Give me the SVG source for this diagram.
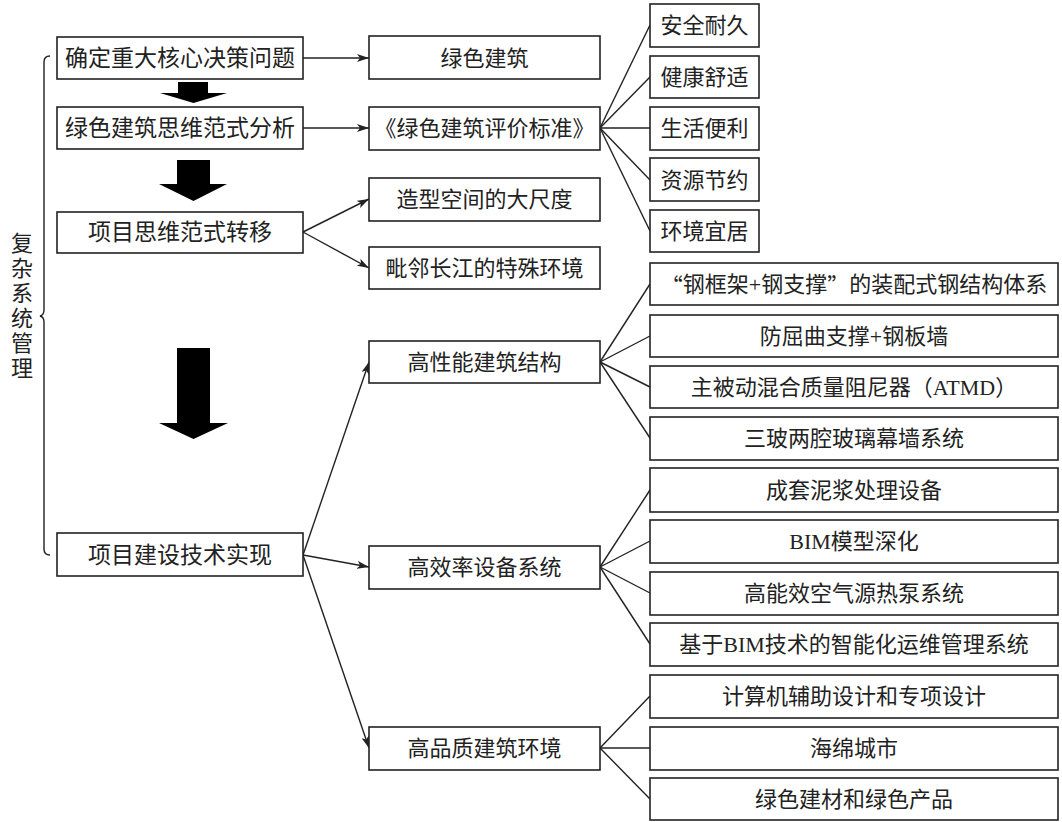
<svg xmlns="http://www.w3.org/2000/svg" width="1062" height="822" viewBox="0 0 1062 822">
<style>
.b{fill:#fff;stroke:#222;stroke-width:1.6}
.t{font-family:"Liberation Serif","Noto Sans CJK SC",serif;font-size:22px;fill:#222;text-anchor:middle;dominant-baseline:central}
.l{font-size:23px}
.q{font-family:"Noto Sans CJK SC",sans-serif}
.c{fill:none;stroke:#222;stroke-width:1.4}
.ba{fill:#000}
</style>
<defs>
<marker id="ah" markerWidth="12" markerHeight="8" refX="12" refY="4" orient="auto" markerUnits="userSpaceOnUse">
<path d="M0,0 L12,4 L0,8 L3,4 Z" fill="#222"/>
</marker>
</defs>
<rect width="1062" height="822" fill="#fff"/>

<g id="brace">
<path class="c" d="M50,56 Q44,56 44,62 L44,310 Q44,315 40,316 Q44,317 44,322 L44,549 Q44,555 50,555"/>
<text class="t" x="22" y="243">复</text>
<text class="t" x="22" y="268">杂</text>
<text class="t" x="22" y="293">系</text>
<text class="t" x="22" y="318">统</text>
<text class="t" x="22" y="343">管</text>
<text class="t" x="22" y="368">理</text>
</g>

<g id="connectors">
<line class="c" x1="303" y1="58" x2="369" y2="58" marker-end="url(#ah)"/>
<line class="c" x1="303" y1="128" x2="369" y2="128" marker-end="url(#ah)"/>
<line class="c" x1="303" y1="232" x2="369" y2="199" marker-end="url(#ah)"/>
<line class="c" x1="303" y1="232" x2="369" y2="268" marker-end="url(#ah)"/>
<line class="c" x1="303" y1="555" x2="369" y2="362" marker-end="url(#ah)"/>
<line class="c" x1="303" y1="555" x2="369" y2="567" marker-end="url(#ah)"/>
<line class="c" x1="303" y1="555" x2="369" y2="748" marker-end="url(#ah)"/>
<line class="c" x1="600" y1="128" x2="650" y2="25"/>
<line class="c" x1="600" y1="128" x2="650" y2="77"/>
<line class="c" x1="600" y1="128" x2="650" y2="128"/>
<line class="c" x1="600" y1="128" x2="650" y2="180"/>
<line class="c" x1="600" y1="128" x2="650" y2="231"/>
<line class="c" x1="600" y1="362" x2="650" y2="284"/>
<line class="c" x1="600" y1="362" x2="650" y2="336"/>
<line class="c" x1="600" y1="362" x2="650" y2="387"/>
<line class="c" x1="600" y1="362" x2="650" y2="438"/>
<line class="c" x1="600" y1="567" x2="650" y2="490"/>
<line class="c" x1="600" y1="567" x2="650" y2="541"/>
<line class="c" x1="600" y1="567" x2="650" y2="593"/>
<line class="c" x1="600" y1="567" x2="650" y2="644"/>
<line class="c" x1="600" y1="748" x2="650" y2="696"/>
<line class="c" x1="600" y1="748" x2="650" y2="748"/>
<line class="c" x1="600" y1="748" x2="650" y2="799"/>
<polygon class="ba" points="178,82 208,82 208,93 227,93 193.5,103 160,93 178,93"/>
<polygon class="ba" points="177,160 210,160 210,184 227,184 193.5,201 159,184 177,184"/>
<polygon class="ba" points="177,348 210,348 210,423 228,423 193.5,439 159,423 177,423"/>
</g>

<g id="n1"><rect class="b" x="57" y="37" width="246" height="42"/><text class="t l" x="180" y="58">确定重大核心决策问题</text></g>
<g id="n2"><rect class="b" x="57" y="107" width="246" height="42"/><text class="t l" x="180" y="128">绿色建筑思维范式分析</text></g>
<g id="n3"><rect class="b" x="57" y="212" width="246" height="41"/><text class="t l" x="180" y="232">项目思维范式转移</text></g>
<g id="n4"><rect class="b" x="57" y="533" width="246" height="43"/><text class="t l" x="180" y="555">项目建设技术实现</text></g>

<g id="m1"><rect class="b" x="369" y="36" width="231" height="43"/><text class="t" x="484.5" y="58">绿色建筑</text></g>
<g id="m2"><rect class="b" x="369" y="107" width="231" height="43"/><text class="t" x="484.5" y="128">《绿色建筑评价标准》</text></g>
<g id="m3"><rect class="b" x="369" y="178" width="231" height="43"/><text class="t" x="484.5" y="199">造型空间的大尺度</text></g>
<g id="m4"><rect class="b" x="369" y="247" width="231" height="42"/><text class="t" x="484.5" y="268">毗邻长江的特殊环境</text></g>
<g id="m5"><rect class="b" x="369" y="341" width="231" height="42"/><text class="t" x="484.5" y="362">高性能建筑结构</text></g>
<g id="m6"><rect class="b" x="369" y="546" width="231" height="43"/><text class="t" x="484.5" y="567">高效率设备系统</text></g>
<g id="m7"><rect class="b" x="369" y="727" width="231" height="43"/><text class="t" x="484.5" y="748">高品质建筑环境</text></g>

<g id="r1"><rect class="b" x="650" y="4" width="109" height="43"/><text class="t" x="704.5" y="25">安全耐久</text></g>
<g id="r2"><rect class="b" x="650" y="56" width="109" height="42"/><text class="t" x="704.5" y="77">健康舒适</text></g>
<g id="r3"><rect class="b" x="650" y="107" width="109" height="43"/><text class="t" x="704.5" y="128">生活便利</text></g>
<g id="r4"><rect class="b" x="650" y="158" width="109" height="43"/><text class="t" x="704.5" y="180">资源节约</text></g>
<g id="r5"><rect class="b" x="650" y="210" width="109" height="42"/><text class="t" x="704.5" y="231">环境宜居</text></g>

<g id="s1"><rect class="b" x="650" y="263" width="408" height="42"/><text class="t" x="854" y="284"><tspan class="q">“</tspan>钢框架+钢支撑<tspan class="q">”</tspan>的装配式钢结构体系</text></g>
<g id="s2"><rect class="b" x="650" y="315" width="408" height="42"/><text class="t" x="854" y="336">防屈曲支撑+钢板墙</text></g>
<g id="s3"><rect class="b" x="650" y="366" width="408" height="42"/><text class="t" x="854" y="387">主被动混合质量阻尼器（ATMD）</text></g>
<g id="s4"><rect class="b" x="650" y="417" width="408" height="43"/><text class="t" x="854" y="438">三玻两腔玻璃幕墙系统</text></g>
<g id="s5"><rect class="b" x="650" y="468" width="408" height="44"/><text class="t" x="854" y="490">成套泥浆处理设备</text></g>
<g id="s6"><rect class="b" x="650" y="520" width="408" height="43"/><text class="t" x="854" y="541">BIM模型深化</text></g>
<g id="s7"><rect class="b" x="650" y="572" width="408" height="43"/><text class="t" x="854" y="593">高能效空气源热泵系统</text></g>
<g id="s8"><rect class="b" x="650" y="623" width="408" height="43"/><text class="t" x="854" y="644">基于BIM技术的智能化运维管理系统</text></g>
<g id="s9"><rect class="b" x="650" y="675" width="408" height="43"/><text class="t" x="854" y="696">计算机辅助设计和专项设计</text></g>
<g id="s10"><rect class="b" x="650" y="727" width="408" height="43"/><text class="t" x="854" y="748">海绵城市</text></g>
<g id="s11"><rect class="b" x="650" y="778" width="408" height="42"/><text class="t" x="854" y="799">绿色建材和绿色产品</text></g>
</svg>
